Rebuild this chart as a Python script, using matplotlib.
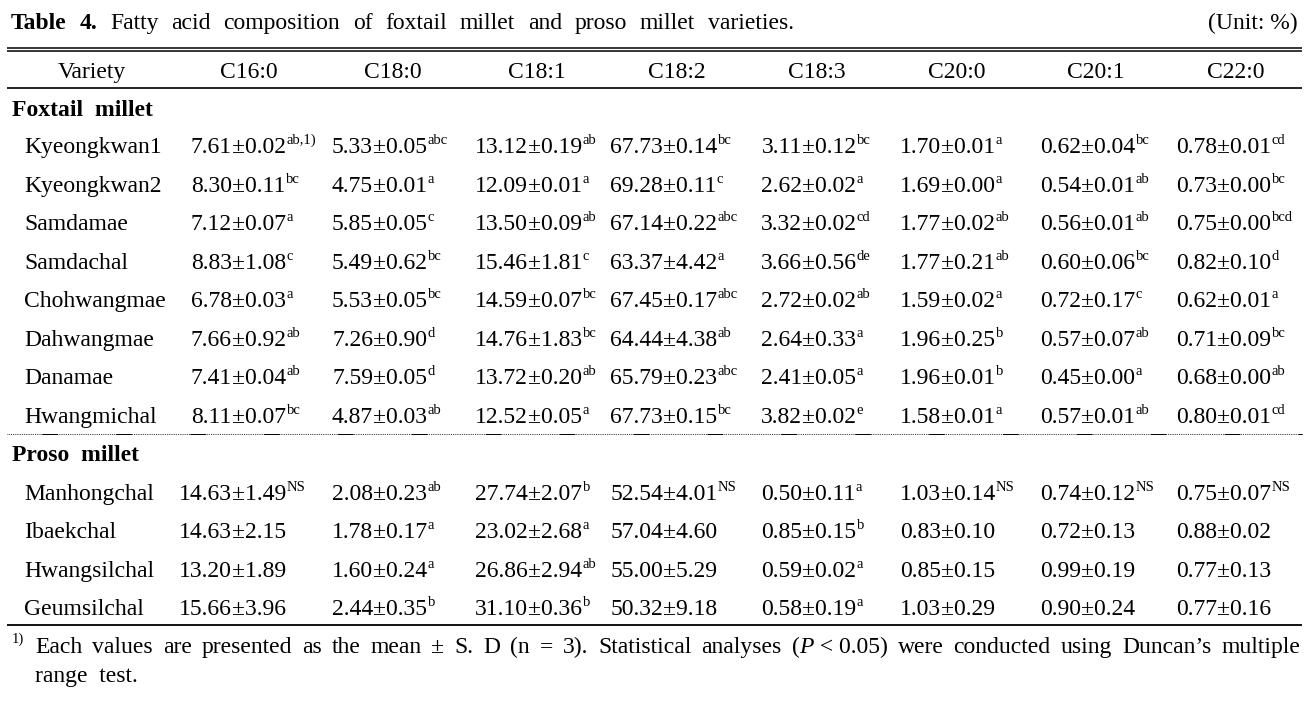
import matplotlib
matplotlib.use('Agg')
import matplotlib.pyplot as plt

FONT = 'Liberation Serif'

#%% data
columns = ['C16:0', 'C18:0', 'C18:1', 'C18:2', 'C18:3', 'C20:0', 'C20:1', 'C22:0']

foxtail_names = ['Kyeongkwan1', 'Kyeongkwan2', 'Samdamae', 'Samdachal',
                 'Chohwangmae', 'Dahwangmae', 'Danamae', 'Hwangmichal']
foxtail_mean = [
    ['7.61', '5.33', '13.12', '67.73', '3.11', '1.70', '0.62', '0.78'],
    ['8.30', '4.75', '12.09', '69.28', '2.62', '1.69', '0.54', '0.73'],
    ['7.12', '5.85', '13.50', '67.14', '3.32', '1.77', '0.56', '0.75'],
    ['8.83', '5.49', '15.46', '63.37', '3.66', '1.77', '0.60', '0.82'],
    ['6.78', '5.53', '14.59', '67.45', '2.72', '1.59', '0.72', '0.62'],
    ['7.66', '7.26', '14.76', '64.44', '2.64', '1.96', '0.57', '0.71'],
    ['7.41', '7.59', '13.72', '65.79', '2.41', '1.96', '0.45', '0.68'],
    ['8.11', '4.87', '12.52', '67.73', '3.82', '1.58', '0.57', '0.80'],
]
foxtail_sd = [
    ['0.02', '0.05', '0.19', '0.14', '0.12', '0.01', '0.04', '0.01'],
    ['0.11', '0.01', '0.01', '0.11', '0.02', '0.00', '0.01', '0.00'],
    ['0.07', '0.05', '0.09', '0.22', '0.02', '0.02', '0.01', '0.00'],
    ['1.08', '0.62', '1.81', '4.42', '0.56', '0.21', '0.06', '0.10'],
    ['0.03', '0.05', '0.07', '0.17', '0.02', '0.02', '0.17', '0.01'],
    ['0.92', '0.90', '1.83', '4.38', '0.33', '0.25', '0.07', '0.09'],
    ['0.04', '0.05', '0.20', '0.23', '0.05', '0.01', '0.00', '0.00'],
    ['0.07', '0.03', '0.05', '0.15', '0.02', '0.01', '0.01', '0.01'],
]
foxtail_sup = [
    ['ab,1)', 'abc', 'ab', 'bc', 'bc', 'a', 'bc', 'cd'],
    ['bc', 'a', 'a', 'c', 'a', 'a', 'ab', 'bc'],
    ['a', 'c', 'ab', 'abc', 'cd', 'ab', 'ab', 'bcd'],
    ['c', 'bc', 'c', 'a', 'de', 'ab', 'bc', 'd'],
    ['a', 'bc', 'bc', 'abc', 'ab', 'a', 'c', 'a'],
    ['ab', 'd', 'bc', 'ab', 'a', 'b', 'ab', 'bc'],
    ['ab', 'd', 'ab', 'abc', 'a', 'b', 'a', 'ab'],
    ['bc', 'ab', 'a', 'bc', 'e', 'a', 'ab', 'cd'],
]

proso_names = ['Manhongchal', 'Ibaekchal', 'Hwangsilchal', 'Geumsilchal']
proso_mean = [
    ['14.63', '2.08', '27.74', '52.54', '0.50', '1.03', '0.74', '0.75'],
    ['14.63', '1.78', '23.02', '57.04', '0.85', '0.83', '0.72', '0.88'],
    ['13.20', '1.60', '26.86', '55.00', '0.59', '0.85', '0.99', '0.77'],
    ['15.66', '2.44', '31.10', '50.32', '0.58', '1.03', '0.90', '0.77'],
]
proso_sd = [
    ['1.49', '0.23', '2.07', '4.01', '0.11', '0.14', '0.12', '0.07'],
    ['2.15', '0.17', '2.68', '4.60', '0.15', '0.10', '0.13', '0.02'],
    ['1.89', '0.24', '2.94', '5.29', '0.02', '0.15', '0.19', '0.13'],
    ['3.96', '0.35', '0.36', '9.18', '0.19', '0.29', '0.24', '0.16'],
]
proso_sup = [
    ['NS', 'ab', 'b', 'NS', 'a', 'NS', 'NS', 'NS'],
    ['', 'a', 'a', '', 'b', '', '', ''],
    ['', 'a', 'ab', '', 'a', '', '', ''],
    ['', 'b', 'b', '', 'a', '', '', ''],
]

#%% layout (pixel units)
header_x = [249, 393, 537, 677, 817, 957, 1096, 1236]
pm_x = [232, 373, 528, 663, 802, 941, 1081, 1217]

fig = plt.figure(figsize=(13.12, 7.02), dpi=100)
ax = fig.add_axes([0, 0, 1, 1])
ax.set_xlim(0, 1312)
ax.set_ylim(702, 0)
ax.axis('off')
renderer = fig.canvas.get_renderer()


def put(x, y, s, size=17, weight='normal', style='normal', ha='left'):
    return ax.text(x, y, s, fontsize=size, family=FONT, weight=weight,
                   style=style, ha=ha, va='baseline')


def width(t):
    return t.get_window_extent(renderer).width


def justify(words, x0, x1, y, size=17):
    # words: list of lists of (text, weight, style)
    groups = []
    for w in words:
        parts = []
        for s, wt, st in w:
            parts.append(put(0, y, s, size=size, weight=wt, style=st))
        groups.append(parts)
    widths = [sum(width(p) for p in g) for g in groups]
    gap = (x1 - x0 - sum(widths)) / (len(groups) - 1)
    x = x0
    for g, wd in zip(groups, widths):
        xx = x
        for p in g:
            p.set_x(xx)
            xx += width(p)
        x += wd + gap


def cell(j, y, mean, sd, sup):
    put(pm_x[j], y, mean, ha='right')
    t = put(pm_x[j], y, '±' + sd)
    if sup:
        put(pm_x[j] + width(t) + 0.5, y - 9, sup, size=10.5)


B = 8  # baseline offset from text centre

# title
title_words = [[('Table', 'bold', 'normal')], [('4.', 'bold', 'normal')]]
for w in 'Fatty acid composition of foxtail millet and proso millet varieties.'.split():
    title_words.append([(w, 'normal', 'normal')])
justify(title_words, 11, 794, 21 + B)
put(1298, 21 + B, '(Unit: %)', ha='right')

# rules
ax.plot([7, 1302], [48.3, 48.3], color='black', lw=1.1, solid_capstyle='butt')
ax.plot([7, 1302], [51.3, 51.3], color='black', lw=1.1, solid_capstyle='butt')
ax.plot([7, 1302], [87.5, 87.5], color='black', lw=1.2, solid_capstyle='butt')
ax.plot([7, 1302], [434, 434], color='black', lw=0.6, linestyle=(0, (1, 1.2)))
ax.plot([7, 1302], [434, 434], color='black', lw=0.7, linestyle=(40, (16, 60)))
ax.plot([7, 1302], [625, 625], color='black', lw=1.3, solid_capstyle='butt')

# header
put(92, 70 + B, 'Variety', ha='center')
for j, c in enumerate(columns):
    put(header_x[j], 70 + B, c, ha='center')

# foxtail millet
put(12, 108 + B, 'Foxtail  millet', weight='bold')
fox_y = [145, 184, 222, 261, 299, 338, 376, 415]
for i, name in enumerate(foxtail_names):
    put(24, fox_y[i] + B, name)
    for j in range(len(columns)):
        cell(j, fox_y[i] + B, foxtail_mean[i][j], foxtail_sd[i][j], foxtail_sup[i][j])

# proso millet
put(12, 453 + B, 'Proso  millet', weight='bold')
pro_y = [492, 530, 569, 607]
for i, name in enumerate(proso_names):
    put(24, pro_y[i] + B, name)
    for j in range(len(columns)):
        cell(j, pro_y[i] + B, proso_mean[i][j], proso_sd[i][j], proso_sup[i][j])

# footnote
put(12, 653 - 10, '1)', size=10.5)
foot = 'Each values are presented as the mean ± S. D (n = 3). Statistical analyses'.split()
foot_words = [[(w, 'normal', 'normal')] for w in foot]
foot_words.append([('(', 'normal', 'normal'), ('P', 'normal', 'italic'),
                   (' < 0.05)', 'normal', 'normal')])
for w in 'were conducted using Duncan\u2019s multiple'.split():
    foot_words.append([(w, 'normal', 'normal')])
justify(foot_words, 35, 1300, 653)
put(35, 682, 'range  test.')

plt.savefig('out.png', dpi=100)
